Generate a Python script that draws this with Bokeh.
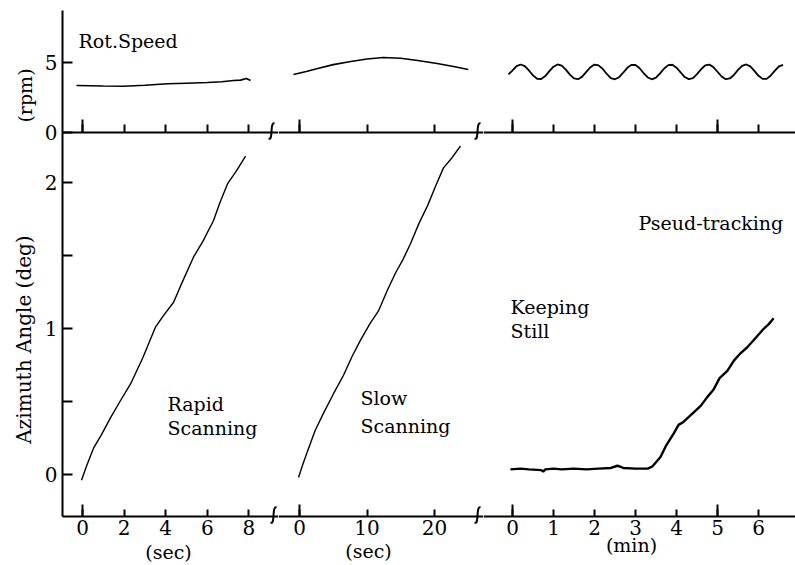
import numpy as np
from bokeh.plotting import figure
from bokeh.models import Range1d, LinearAxis, FixedTicker, Label
from bokeh.layouts import row
from bokeh.embed import file_html
from bokeh.resources import INLINE

# ---------------- data ----------------
# Rotation speed (rpm)
rot1_t = [-0.29, 1.0, 1.97, 3.0, 4.09, 5.0, 6.0, 6.7, 7.26, 7.6, 7.88, 8.08]          # sec
rot1_v = [3.36, 3.32, 3.30, 3.38, 3.48, 3.52, 3.57, 3.62, 3.71, 3.74, 3.86, 3.72]
rot2_t = [-0.9, 1.0, 2.7, 5.0, 7.6, 10.0, 12.4, 15.0, 17.5, 20.4, 23.0, 25.0]          # sec
rot2_v = [4.14, 4.36, 4.57, 4.85, 5.07, 5.25, 5.36, 5.30, 5.14, 4.93, 4.70, 4.50]
rot3_t = [round(-0.1 + 0.1 * i, 1) for i in range(68)]                                 # min
rot3_v = [4.15, 4.43, 4.74, 4.86, 4.74, 4.43, 4.08, 3.84, 3.82, 4.03,
          4.38, 4.70, 4.86, 4.77, 4.49, 4.13, 3.86, 3.81, 3.99, 4.33,
          4.66, 4.85, 4.80, 4.54, 4.18, 3.89, 3.80, 3.95, 4.27, 4.62,
          4.83, 4.82, 4.59, 4.23, 3.93, 3.80, 3.92, 4.22, 4.57, 4.81,
          4.84, 4.63, 4.29, 3.96, 3.81, 3.88, 4.17, 4.52, 4.79, 4.85,
          4.67, 4.34, 4.00, 3.81, 3.86, 4.11, 4.47, 4.76, 4.86, 4.72,
          4.40, 4.05, 3.83, 3.83, 4.07, 4.42, 4.73, 4.83]

# Azimuth angle (deg)
rapid_t = [-0.05, 0.2, 0.53, 0.9, 1.35, 1.8, 2.31, 2.9, 3.51, 3.9, 4.38, 4.71,
           5.34, 5.8, 6.30, 6.6, 6.97, 7.4, 7.84]                                       # sec
rapid_v = [-0.04, 0.06, 0.18, 0.27, 0.39, 0.50, 0.62, 0.80, 1.01, 1.09, 1.18, 1.29,
           1.49, 1.60, 1.74, 1.86, 1.99, 2.08, 2.18]
slow_t = [-0.15, 0.5, 1.19, 2.3, 3.56, 5.0, 6.52, 7.8, 9.04, 10.4, 11.7, 13.0,
          14.22, 15.3, 16.44, 17.7, 18.96, 20.2, 21.33, 22.6, 23.85]                    # sec
slow_v = [-0.02, 0.07, 0.16, 0.30, 0.42, 0.55, 0.68, 0.81, 0.92, 1.03, 1.12, 1.26,
          1.38, 1.47, 1.58, 1.72, 1.84, 1.98, 2.10, 2.17, 2.25]
track_t = [-0.05, 0.2, 0.4, 0.7, 0.75, 0.8, 1.0, 1.2, 1.5, 1.8, 2.1, 2.4, 2.56, 2.7,
           3.0, 3.3, 3.41, 3.61, 3.75, 3.93, 4.05, 4.17, 4.4, 4.59, 4.75, 4.90, 5.05,
           5.24, 5.4, 5.56, 5.72, 5.88, 6.1, 6.25, 6.37]                                 # min
track_v = [0.035, 0.04, 0.035, 0.03, 0.02, 0.035, 0.04, 0.035, 0.04, 0.035, 0.04, 0.045,
           0.06, 0.045, 0.04, 0.04, 0.055, 0.12, 0.20, 0.28, 0.34, 0.36, 0.42, 0.47,
           0.53, 0.58, 0.66, 0.71, 0.78, 0.83, 0.87, 0.92, 0.99, 1.03, 1.07]

bottom_ticks = [[0, 2, 4, 6, 8], [0, 10, 20], [0, 1, 2, 3, 4, 5, 6]]
tall_ticks = [[0], [0], [0, 5]]
deg_ticks = [0, 1, 2]
deg_minor = [0.5, 1.5]
rpm_ticks = [0, 5]
unit_labels = ["(sec)", "(sec)", "(min)"]

# ---------------- layout (page pixels; canvas sits at page origin) ----------------
FONT = "DejaVu Serif"
H = 565
PAGE_TOP, PAGE_BOTTOM = 0, 565
DEG0_Y, DEG_PX = 474, 146.0
RPM0_Y, RPM_PX = 132, 14.0
AX_BOTTOM_Y, AX_TOP_Y, AX_LEFT_X = 516, 10, 62
COL_EDGES = [0, 278, 483, 795]
SEGS = [(82, 20.8), (299, 6.75), (512, 41.0)]


def deg_at(py):
    return (DEG0_Y - py) / DEG_PX


def rpm_at(py):
    return (RPM0_Y - py) / RPM_PX


def style_axis(ax, tick_len, tall_len):
    ax.axis_line_width = 2
    ax.axis_line_color = "black"
    ax.major_tick_in = tick_len
    ax.major_tick_out = 0
    ax.minor_tick_in = tall_len
    ax.minor_tick_out = 0
    ax.major_tick_line_width = 2
    ax.minor_tick_line_width = 2
    ax.major_tick_line_color = "black"
    ax.minor_tick_line_color = "black"
    ax.major_label_text_font = FONT
    ax.major_label_text_font_size = "20px"
    ax.major_label_text_color = "black"
    ax.major_label_standoff = 3


def label(p, x, y, text, size="19px", align="left", baseline="alphabetic", angle=0.0, rng=None):
    kw = dict(x=x, y=y, text=text, text_font=FONT, text_font_size=size, text_color="black",
              text_align=align, text_baseline=baseline, angle=angle)
    if rng:
        kw["y_range_name"] = rng
    p.add_layout(Label(**kw))


def brk(p, i, px, py, rng):
    zero, scale = SEGS[i]
    fy = deg_at if rng is None else rpm_at
    kw = {} if rng is None else {"y_range_name": rng}
    p.bezier(x0=[(px + 3 - zero) / scale], y0=[fy(py - 9)],
             x1=[(px - 3 - zero) / scale], y1=[fy(py + 6)],
             cx0=[(px - 2 - zero) / scale], cy0=[fy(py - 11)],
             cx1=[(px + 2 - zero) / scale], cy1=[fy(py + 9)],
             line_color="black", line_width=2.0, **kw)


figs = []
for i in range(3):
    zero, scale = SEGS[i]
    left, right = COL_EDGES[i], COL_EDGES[i + 1]
    xr = Range1d((left - zero) / scale, (right - zero) / scale)
    p = figure(width=right - left, height=H, x_range=xr,
               y_range=Range1d(deg_at(PAGE_BOTTOM), deg_at(PAGE_TOP)),
               output_backend="svg", toolbar_location=None,
               x_axis_location=None, y_axis_location=None,
               min_border_left=0, min_border_right=0,
               min_border_top=0, min_border_bottom=0)
    p.extra_y_ranges = {"rpm": Range1d(rpm_at(PAGE_BOTTOM), rpm_at(PAGE_TOP))}
    p.outline_line_color = None
    p.grid.visible = False
    p.background_fill_color = "white"
    p.border_fill_color = "white"

    x_left = (AX_LEFT_X - zero) / scale if i == 0 else xr.start
    xb = (x_left, xr.end)
    # bottom time axis
    bx = LinearAxis(ticker=FixedTicker(ticks=bottom_ticks[i], minor_ticks=tall_ticks[i]),
                    fixed_location=deg_at(AX_BOTTOM_Y), bounds=xb)
    style_axis(bx, 7, 12)
    p.add_layout(bx, "below")
    # top time axis (speed panel), no labels
    tx = LinearAxis(ticker=FixedTicker(ticks=bottom_ticks[i], minor_ticks=tall_ticks[i]),
                    y_range_name="rpm", fixed_location=0, bounds=xb,
                    major_label_overrides={t: "" for t in bottom_ticks[i]})
    style_axis(tx, 8, 13)
    p.add_layout(tx, "below")

    if i == 0:
        ya = LinearAxis(ticker=FixedTicker(ticks=deg_ticks, minor_ticks=deg_minor),
                        fixed_location=x_left, bounds=(deg_at(AX_BOTTOM_Y), deg_at(RPM0_Y)))
        style_axis(ya, 10, 10)
        ya.major_label_standoff = 5
        p.add_layout(ya, "left")
        yr = LinearAxis(ticker=FixedTicker(ticks=rpm_ticks), y_range_name="rpm",
                        fixed_location=x_left, bounds=(0, rpm_at(AX_TOP_Y)))
        style_axis(yr, 10, 10)
        yr.major_label_standoff = 5
        p.add_layout(yr, "left")
        label(p, (23 - zero) / scale, deg_at(339), "Azimuth Angle (deg)", size="20px",
              align="center", baseline="middle", angle=np.pi / 2)
        label(p, (24 - zero) / scale, rpm_at(95), "(rpm)",
              align="center", baseline="middle", angle=np.pi / 2, rng="rpm")
        label(p, (78 - zero) / scale, rpm_at(40), "Rot.Speed", rng="rpm")
        label(p, (167 - zero) / scale, deg_at(403), "Rapid")
        label(p, (167 - zero) / scale, deg_at(427), "Scanning")
        p.line(rot1_t, rot1_v, y_range_name="rpm", line_color="black", line_width=1.6)
        p.line(rapid_t, rapid_v, line_color="black", line_width=1.4)
        brk(p, 0, 273, AX_BOTTOM_Y, None)
        brk(p, 0, 271, RPM0_Y, "rpm")
    elif i == 1:
        label(p, (360 - zero) / scale, deg_at(397), "Slow")
        label(p, (360 - zero) / scale, deg_at(425), "Scanning")
        p.line(rot2_t, rot2_v, y_range_name="rpm", line_color="black", line_width=1.6)
        p.line(slow_t, slow_v, line_color="black", line_width=1.4)
        brk(p, 1, 477, AX_BOTTOM_Y, None)
        brk(p, 1, 477, RPM0_Y, "rpm")
    else:
        label(p, (510 - zero) / scale, deg_at(306), "Keeping")
        label(p, (510 - zero) / scale, deg_at(330), "Still")
        label(p, (638 - zero) / scale, deg_at(222), "Pseud-tracking")
        p.line(rot3_t, rot3_v, y_range_name="rpm", line_color="black", line_width=1.8)
        p.line(track_t, track_v, line_color="black", line_width=2.4)

    ucx = [168, 368, 631][i]
    ucy = [551, 550, 544][i]
    label(p, (ucx - zero) / scale, deg_at(ucy), unit_labels[i],
          align="center", baseline="middle")
    figs.append(p)

layout = row(*figs, spacing=0)
open("out.html", "w").write(file_html(layout, INLINE))
